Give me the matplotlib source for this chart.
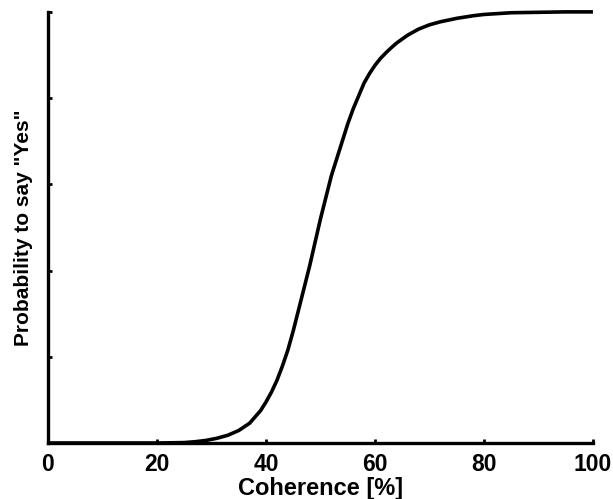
import matplotlib
matplotlib.use('Agg')
import matplotlib.pyplot as plt

matplotlib.rcParams.update({
    'font.family': ['Liberation Sans', 'DejaVu Sans'],
    'font.weight': 'bold',
})

# psychometric curve
coherence = [0, 5, 10, 15, 20, 25, 27, 29, 31, 33, 35, 37, 39, 40, 41, 42,
             43, 44, 45, 46, 47, 48, 49, 50, 51, 52, 53, 54, 55, 56, 57, 58,
             59, 60, 61, 62, 63, 64, 66, 68, 70, 72, 75, 78, 80, 85, 90, 95,
             100]
p_yes = [0, 0, 0, 0, 0, 0.001, 0.003, 0.006, 0.011, 0.018, 0.029, 0.046,
         0.075, 0.095, 0.118, 0.145, 0.178, 0.215, 0.26, 0.31, 0.36, 0.41,
         0.465, 0.52, 0.57, 0.62, 0.66, 0.70, 0.74, 0.775, 0.805, 0.835,
         0.857, 0.876, 0.892, 0.905, 0.917, 0.928, 0.946, 0.96, 0.97, 0.977,
         0.985, 0.991, 0.994, 0.998, 0.999, 1.0, 1.0]

xticks = [0, 20, 40, 60, 80, 100]
yticks = [0, 0.2, 0.4, 0.6, 0.8, 1.0]

fig = plt.figure(figsize=(6.13, 4.99), dpi=100)
ax = fig.add_axes([0.0783, 0.1122, 0.889, 0.864])

ax.plot(coherence, p_yes, color='black', linewidth=2.6,
        solid_capstyle='butt', solid_joinstyle='round', clip_on=False)

ax.set_xlim(0, 100)
ax.set_ylim(0, 1)
ax.set_xticks(xticks)
ax.set_yticks(yticks)
ax.set_yticklabels([])

ax.spines['top'].set_visible(False)
ax.spines['right'].set_visible(False)
for s in ('left', 'bottom'):
    ax.spines[s].set_linewidth(2.4)

ax.tick_params(direction='in', length=3, width=2, labelsize=16.5, pad=7)
for lab in ax.get_xticklabels():
    lab.set_fontweight('bold')

ax.set_xlabel('Coherence [%]', fontsize=17, fontweight='bold', labelpad=1)
ax.set_ylabel('Probability to say "Yes"', fontsize=15, fontweight='bold',
              labelpad=4)

fig.savefig('out.png', dpi=100)
plt.close(fig)
